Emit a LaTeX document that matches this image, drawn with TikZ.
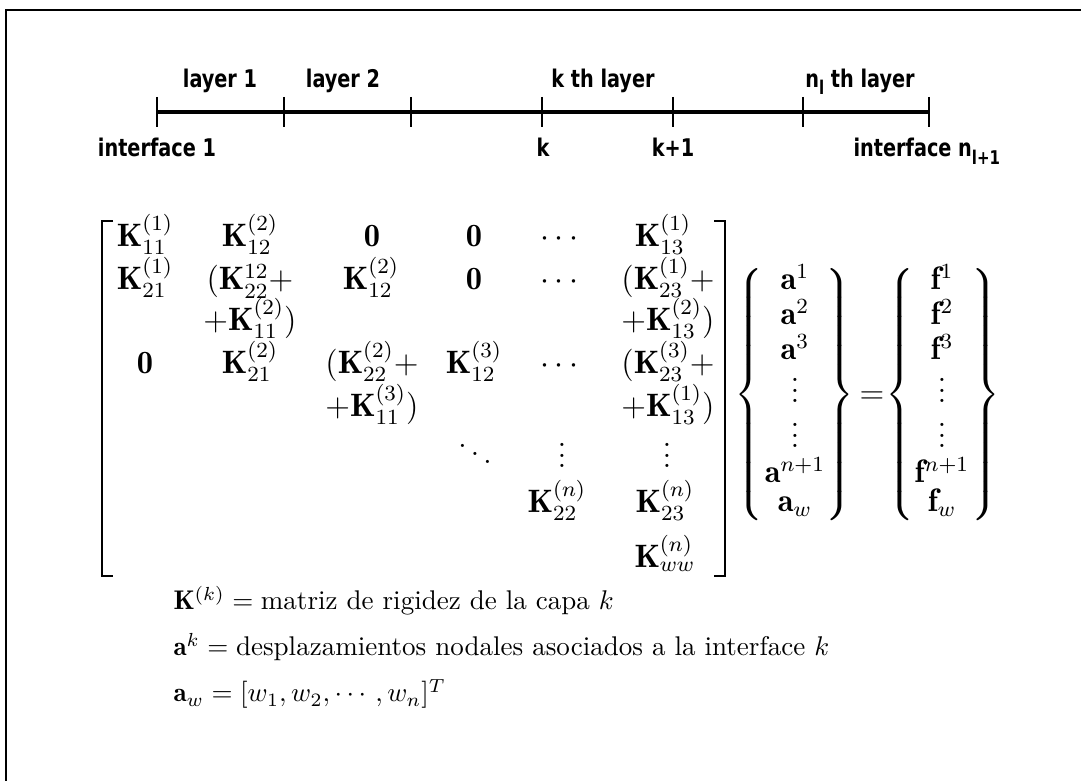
\documentclass[tikz,border=0pt]{standalone}
\usepackage{amsmath}
\usepackage{fontspec}
\newfontfamily\plotfont[FakeStretch=0.88]{DejaVu Sans Condensed}
\newcommand{\tallbrace}[1]{$\nulldelimiterspace=0pt\left#1\rule[-1.6cm]{0pt}{3.2cm}\right.$}
\tikzset{
  entry/.style={inner sep=0pt, anchor=base, font=\large},
  brace/.style={inner sep=0pt, font=\large},
  plotlabel/.style={inner sep=0pt, anchor=base, font=\plotfont\bfseries\fontsize{9}{10}\selectfont},
  note/.style={inner sep=0pt, anchor=base west, font=\normalsize},
  tick/.style={line width=0.9pt},
}
\begin{document}
\begin{tikzpicture}[x=0.013cm,y=-0.013cm]
\useasboundingbox (0,0) rectangle (1081,781);
% frame
\draw[line width=0.9pt] (6,781) -- (6,10) -- (1081,10);
% layer scale
\draw[line width=1.4pt] (157,112) -- (930,112);
\foreach \x/\n in {157/i1,284/i2,411/i3,542/ik,673/ikk,803/in,929/inn}
  \draw[tick] (\x,97) coordinate (\n) -- (\x,127);
\node[plotlabel] (l1) at (220,88) {layer 1};
\node[plotlabel] (l2) at (343,88) {layer 2};
\node[plotlabel] (lk) at (603,88) {k th layer};
\node[plotlabel] (ln) at (860,88) {n\raisebox{-0.5ex}{\fontsize{7}{8}\selectfont l} th layer};
\node[plotlabel] (t1) at (157,157) {interface 1};
\node[plotlabel] (tk) at (543,157) {k};
\node[plotlabel] (tkk) at (673,157) {k+1};
\node[plotlabel, anchor=base west] (tn) at (853,157) {interface n\raisebox{-0.6ex}{\fontsize{7}{8}\selectfont l+1}};
% matrix brackets
\draw[line width=1.1pt] (113,221) -- (102,221) -- (102,576) -- (113,576);
\draw[line width=1.1pt] (714,221) -- (725,221) -- (725,576) -- (714,576);
% row 1
\node[entry] (a11) at (145,247) {$\mathbf{K}_{11}^{(1)}$};
\node[entry] (a12) at (250,247) {$\mathbf{K}_{12}^{(2)}$};
\node[entry] (a13) at (372,247) {$\mathbf{0}$};
\node[entry] (a14) at (474,247) {$\mathbf{0}$};
\node[entry] (a15) at (562,247) {$\cdots$};
\node[entry] (a16) at (663,247) {$\mathbf{K}_{13}^{(1)}$};
% row 2
\node[entry] (a21) at (145,290) {$\mathbf{K}_{21}^{(1)}$};
\node[entry] (a22) at (250,290) {$(\mathbf{K}_{22}^{12}+$};
\node[entry] (a23) at (371,290) {$\mathbf{K}_{12}^{(2)}$};
\node[entry] (a24) at (474,290) {$\mathbf{0}$};
\node[entry] (a25) at (562,290) {$\cdots$};
\node[entry] (a26) at (668,290) {$(\mathbf{K}_{23}^{(1)}+$};
\node[entry] (b22) at (250,331) {$+\mathbf{K}_{11}^{(2)})$};
\node[entry] (b26) at (668,331) {$+\mathbf{K}_{13}^{(2)})$};
% row 3
\node[entry] (a31) at (145,374) {$\mathbf{0}$};
\node[entry] (a32) at (250,374) {$\mathbf{K}_{21}^{(2)}$};
\node[entry] (a33) at (372,374) {$(\mathbf{K}_{22}^{(2)}+$};
\node[entry] (a34) at (474,374) {$\mathbf{K}_{12}^{(3)}$};
\node[entry] (a35) at (562,374) {$\cdots$};
\node[entry] (a36) at (668,374) {$(\mathbf{K}_{23}^{(3)}+$};
\node[entry] (b33) at (372,417) {$+\mathbf{K}_{11}^{(3)})$};
\node[entry] (b36) at (668,417) {$+\mathbf{K}_{13}^{(1)})$};
% row 4
\node[entry] (a43) at (475,466) {$\ddots$};
\node[entry] (a44) at (562,468) {$\vdots$};
\node[entry] (a46) at (667,468) {$\vdots$};
\node[entry] (a54) at (557,513) {$\mathbf{K}_{22}^{(n)}$};
\node[entry] (a56) at (665,513) {$\mathbf{K}_{23}^{(n)}$};
\node[entry] (a66) at (665,568) {$\mathbf{K}_{ww}^{(n)}$};
% displacement vector
\node[brace] (al) at (749,397) {\tallbrace\{};
\node[brace] (ar) at (840,397) {\tallbrace\}};
\foreach \y/\t [count=\i] in {290/\mathbf{a}^{1},325/\mathbf{a}^{2},360/\mathbf{a}^{3},403/\vdots,448/\vdots,483/\mathbf{a}^{n+1},512/\mathbf{a}_{w}}
  \node[entry] (a\i) at (795,\y) {$\t$};
\node[entry, anchor=center] (eq) at (872,398) {$=$};
% force vector
\node[brace] (fl) at (900,397) {\tallbrace\{};
\node[brace] (fr) at (986,397) {\tallbrace\}};
\foreach \y/\t [count=\i] in {290/\mathbf{f}^{1},325/\mathbf{f}^{2},360/\mathbf{f}^{3},403/\vdots,448/\vdots,483/\mathbf{f}^{n+1},512/\mathbf{f}_{w}}
  \node[entry] (f\i) at (942,\y) {$\t$};
% notes
\node[note] (n1) at (173,610) {$\mathbf{K}^{(k)}=\text{matriz de rigidez de la capa }k$};
\node[note] (n2) at (173,656) {$\mathbf{a}^{k}=\text{desplazamientos nodales asociados a la interface }k$};
\node[note] (n3) at (173,702) {$\mathbf{a}_{w}=[w_1,w_2,\cdots,w_n]^{T}$};
\end{tikzpicture}
\end{document}
